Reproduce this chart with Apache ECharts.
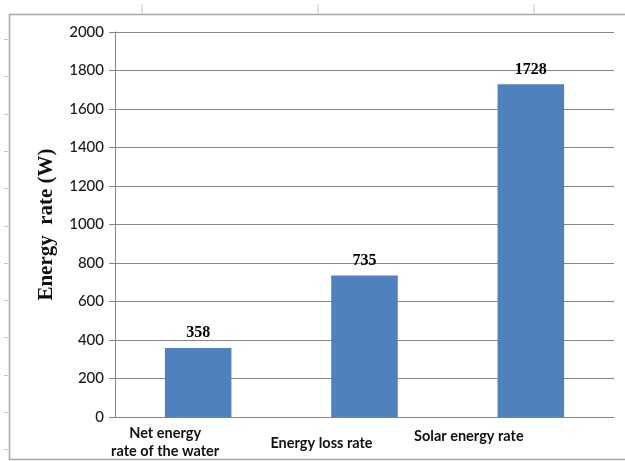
<!DOCTYPE html>
<html>
<head>
<meta charset="utf-8">
<script src="https://cdn.jsdelivr.net/npm/echarts@6/dist/echarts.min.js"></script>
<style>
  html, body { margin: 0; padding: 0; background: #fff; }
  #chart { width: 625px; height: 461px; }
</style>
</head>
<body>
<div id="chart"></div>
<script>
// Energy balance of the heater (W)
const categories = ['Net energy\nrate of the water', 'Energy loss rate', 'Solar energy rate'];
const energyRates = [358, 735, 1728];
const yTicks = { min: 0, max: 2000, step: 200 };

// per-label nudges for the category captions: [padTop, padRight]
const labelNudge = [[0, 66], [10, 86], [3, 124]];

const chart = echarts.init(document.getElementById('chart'), null, { renderer: 'canvas' });

const sheetMarks = [];
// faint ruler ticks around the sheet frame
[142, 318, 534].forEach(x => sheetMarks.push({
  type: 'line', shape: { x1: x, y1: 4, x2: x, y2: 14 },
  style: { stroke: '#c8c8c8', lineWidth: 1 }, silent: true
}));
for (let y = 39; y < 455; y += 37.3) {
  sheetMarks.push({
    type: 'line', shape: { x1: 4, y1: Math.round(y) + 0.5, x2: 8, y2: Math.round(y) + 0.5 },
    style: { stroke: '#c8c8c8', lineWidth: 1 }, silent: true
  });
}
// chart frame
sheetMarks.push({
  type: 'rect', shape: { x: 9.5, y: 14.5, width: 620, height: 445 },
  style: { fill: 'none', stroke: '#a9a9a9', lineWidth: 1.5 }, silent: true, z: -1
});

chart.setOption({
  animation: false,
  backgroundColor: '#ffffff',
  graphic: sheetMarks,
  grid: { left: 115, right: 11, top: 32, bottom: 44, containLabel: false, outerBoundsMode: 'none' },
  xAxis: {
    type: 'category',
    data: categories.map((c, i) => ({
      value: c,
      textStyle: { padding: [labelNudge[i][0], labelNudge[i][1], 0, 0] }
    })),
    axisLine: { lineStyle: { color: '#868686', width: 1 } },
    axisTick: { show: false },
    axisLabel: {
      interval: 0,
      margin: 7,
      color: '#111',
      fontFamily: 'Lato',
      fontWeight: 'bold',
      fontSize: 14.5,
      lineHeight: 18
    },
    splitLine: { show: false }
  },
  yAxis: {
    type: 'value',
    min: yTicks.min,
    max: yTicks.max,
    interval: yTicks.step,
    name: 'Energy  rate (W)',
    nameLocation: 'middle',
    nameRotate: 90,
    nameGap: 58,
    nameTextStyle: {
      fontFamily: 'Liberation Serif',
      fontWeight: 'bold',
      fontSize: 21,
      color: '#111'
    },
    axisLine: { show: true, lineStyle: { color: '#868686', width: 1 } },
    axisTick: { show: true, inside: false, length: 6, lineStyle: { color: '#868686' } },
    axisLabel: {
      margin: 11,
      color: '#1a1a1a',
      fontFamily: 'Lato',
      fontWeight: 500,
      fontSize: 15,
      formatter: v => String(v)
    },
    splitLine: { show: true, lineStyle: { color: '#868686', width: 1 } }
  },
  series: [{
    type: 'bar',
    data: energyRates,
    barWidth: '40%',
    itemStyle: { color: '#4F81BD' },
    label: {
      show: true,
      position: 'top',
      distance: 7,
      color: '#000',
      fontFamily: 'Liberation Serif',
      fontWeight: 'bold',
      fontSize: 16
    }
  }]
});
</script>
</body>
</html>
